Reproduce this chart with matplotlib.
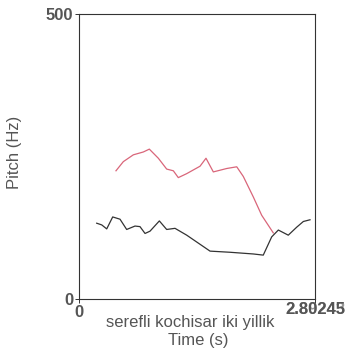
import matplotlib.pyplot as plt

# pitch tracks (time in s, pitch in Hz)
red_t = [0.439, 0.526, 0.645, 0.764, 0.835, 0.942, 1.041, 1.120, 1.179, 1.279,
         1.437, 1.508, 1.595, 1.754, 1.873, 1.951, 2.070, 2.169, 2.307]
red_hz = [225, 241, 253, 258, 263, 247, 228, 225, 213, 220,
          233, 247, 223, 229, 232, 215, 179, 147, 116]

black_t = [0.210, 0.270, 0.329, 0.400, 0.487, 0.566, 0.665, 0.724, 0.784, 0.843,
           0.954, 1.041, 1.140, 1.279, 1.556, 1.793, 2.070, 2.188, 2.288, 2.367,
           2.485, 2.585, 2.664, 2.743]
black_hz = [133, 130, 123, 144, 140, 122, 128, 127, 115, 119,
            137, 122, 124, 112, 84, 82, 79, 77, 109, 121,
            112, 126, 136, 139]

t_end = 2.80245
y_max = 500

plt.rcParams['font.family'] = ['Liberation Sans', 'DejaVu Sans']
grey = '#555555'

fig = plt.figure(figsize=(3.49, 3.52), dpi=100)
ax = fig.add_axes([0.2264, 0.1506, 0.6762, 0.8094])

ax.plot(red_t, red_hz, color='#d9667a', lw=0.9)
ax.plot(black_t, black_hz, color='#333333', lw=0.9)

ax.set_xlim(0, t_end)
ax.set_ylim(0, y_max)
ax.set_xticks([0, t_end])
ax.set_xticklabels(['0', ''])
ax.set_yticks([0, y_max])
ax.set_yticklabels(['0', '500'])
ax.tick_params(length=3, width=0.7, colors='#333333', labelcolor=grey,
               labelsize=12, pad=1)
for lab in ax.get_xticklabels() + ax.get_yticklabels():
    lab.set_fontweight('bold')
for s in ax.spines.values():
    s.set_linewidth(0.8)
    s.set_color('#333333')

# overlapping end-time labels as in the original
ax.text(1.0, -0.012, '2.80245', transform=ax.transAxes, ha='center', va='top',
        fontsize=12, fontweight='bold', color=grey)
ax.text(1.0, -0.012, '2.89243', transform=ax.transAxes, ha='center', va='top',
        fontsize=12, fontweight='bold', color=grey, alpha=0.6)

fig.text(190 / 349, 1 - 323 / 352, 'serefli kochisar iki yillik',
         ha='center', va='center', fontsize=12, color=grey)
fig.text(198 / 349, 1 - 340 / 352, 'Time (s)',
         ha='center', va='center', fontsize=12, color=grey)
fig.text(15 / 349, 1 - 152 / 352, 'Pitch (Hz)', rotation=90,
         ha='center', va='center', fontsize=12, color=grey)

fig.savefig('out.png', dpi=100)
